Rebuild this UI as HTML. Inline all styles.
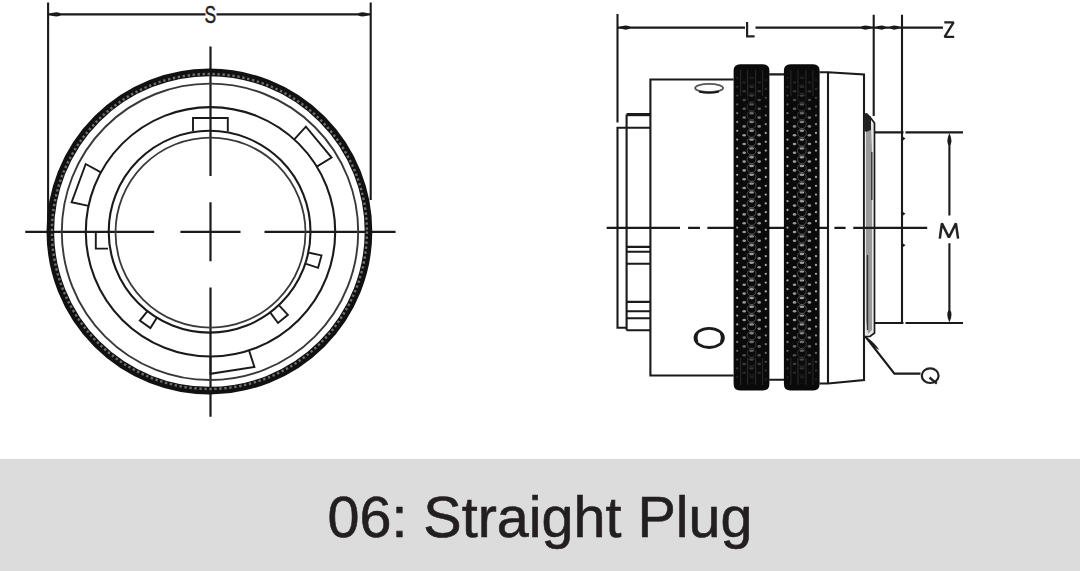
<!DOCTYPE html>
<html><head><meta charset="utf-8"><style>
html,body{margin:0;padding:0;background:#fff;}
body{width:1080px;height:571px;overflow:hidden;position:relative;}
svg{position:absolute;left:0;top:0;}
.cap{position:absolute;left:0;top:459px;width:1080px;height:112px;background:#dcdcdc;}
.cap span{position:absolute;left:0;width:1080px;text-align:center;top:29.5px;font-family:"Liberation Sans",sans-serif;font-size:57.5px;color:#231f20;line-height:1;white-space:nowrap;transform:scaleX(1.0);-webkit-text-stroke:0.6px #231f20;}
</style></head><body>
<svg width="1080" height="571" viewBox="0 0 1080 571">
<g fill="none" stroke="#1a1a1a" stroke-width="2.1">
<path d="M48.1,2.5 V232 M370.7,2.5 V200 M48.1,14.4 H205.5 M216.5,14.4 H370.7" />
</g>
<g fill="none" stroke="#1a1a1a" stroke-width="2.2">
<path d="M210.5,46.6 V176 M210.5,202.2 V261.2 M210.5,287.5 V416.7 M25.3,231.8 H154.2 M180.4,231.8 H240.5 M264.5,231.8 H395.6" />
</g>
<circle cx="209.4" cy="231.5" r="159.1" fill="none" stroke="#111" stroke-width="7.6" />
<circle cx="209.4" cy="231.5" r="157.5" fill="none" stroke="#707070" stroke-width="2.4" stroke-dasharray="2.4 2.6" />
<circle cx="210" cy="231.8" r="148.2" fill="none" stroke="#383838" stroke-width="1.9" />
<circle cx="210.5" cy="231.8" r="124.7" fill="none" stroke="#1a1a1a" stroke-width="2.1" />
<circle cx="209.6" cy="231.7" r="100.9" fill="none" stroke="#1a1a1a" stroke-width="2.1" />
<circle cx="210.5" cy="232.6" r="95" fill="none" stroke="#3a3a3a" stroke-width="1.8" />
<g fill="none" stroke="#1a1a1a" stroke-width="1.9">
<path d="M88.5,205.9 L71.6,202.3 L85.7,164.0 L100.9,172.3" />
<path d="M294.3,139.4 L305.9,126.6 L331.6,157.6 L316.8,166.6" />
<path d="M249.0,350.4 L254.4,366.9 L210.5,373.8 L210.5,356.5" />
<path d="M193,131 V118 H227.8 V131.5" />
<path d="M108.6,232 H95.8 V248.6 H108" />
<path d="M157.0,317.4 L150.4,328.1 L139.8,320.6 L147.7,310.8" />
<path d="M279.3,305.6 L287.9,314.8 L278.0,323.0 L270.5,312.9" />
<path d="M309.2,252.8 L321.5,255.4 L318.1,267.8 L306.2,263.8" />
</g>
<text x="210.3" y="22.6" font-family="Liberation Sans" font-size="23.5" text-anchor="middle" fill="#222" stroke="#222" stroke-width="0.4" transform="translate(210.3,0) scale(0.74,1) translate(-210.3,0)">S</text>
<g fill="none" stroke="#1a1a1a" stroke-width="2.1">
<path d="M617.5,14 V122.4 M617.5,27.6 H745 M755.5,27.6 H943 M873.7,14.7 V116 M902,14.7 V132.4" />
<path d="M626.6,327.7 H617.5 V127.7 H650.4" />
<path d="M626.6,330.2 V114.4 M626.6,330.2 H650.4" />
<path d="M626.6,246.9 H650.4 M626.6,251.8 H650.4 M626.6,263.7 H650.4 M626.6,301.9 H650.4 M626.6,311.3 H650.4 M626.6,318.3 H650.4" />
<path d="M733.6,79.5 H650.4 V375.5 H733.6" />
<path d="M769.2,74.4 H784 M769.2,379.8 H784" />
<path d="M819.5,72.2 H828 L864,74.5 V380 L828,383.5 H819.5 M828,72.2 V383.5" />
<path d="M875,132.4 H903.5 M905.5,132.4 H963 M873.5,323.0 H903.5 M905.5,323.0 H963 M902,132.4 V323.0" />
<path d="M949.4,140 V215.5 M949.4,243.2 V316" />
<path d="M864.6,335.5 L894.4,373.6 H920.5" />
</g>
<path fill="#1a1a1a" d="M626.6,113 H650.4 V116.2 H626.6 Z" />
<path fill="#1a1a1a" d="M48.5,14.4 Q57.9,10.2 61.5,14.4 Q57.9,18.6 48.5,14.4 Z M370.3,14.4 Q360.9,10.2 357.3,14.4 Q360.9,18.6 370.3,14.4 Z M618.0,27.6 Q627.4,23.4 631.0,27.6 Q627.4,31.8 618.0,27.6 Z M873.2,27.6 Q863.8,23.4 860.2,27.6 Q863.8,31.8 873.2,27.6 Z M874.4,27.6 Q883.0,23.4 886.4,27.6 Q883.0,31.8 874.4,27.6 Z M901.4,27.6 Q892.8,23.4 889.4,27.6 Q892.8,31.8 901.4,27.6 Z M949.4,133.0 Q945.2,142.4 949.4,146.0 Q953.6,142.4 949.4,133.0 Z M949.4,322.6 Q945.2,313.2 949.4,309.6 Q953.6,313.2 949.4,322.6 Z " />
<path fill="#1a1a1a" d="M866,337 Q873.5,341.5 879.5,350 Q871,346.5 866,337 Z" />
<path fill="#1a1a1a" d="M903,136.8 L905.5,138.6 L903,140.4 Z M903,212 L905.5,213.8 L903,215.6 Z M903,243.4 L905.5,245.2 L903,247 Z" />
<g fill="none" stroke="#1a1a1a" stroke-width="1.6">
<ellipse cx="709.1" cy="88" rx="14" ry="4.1" stroke="#555" stroke-width="1.8"/><path d="M699,91.6 Q709,94 719,91.6" stroke="#111" stroke-width="2"/>
<ellipse cx="709.2" cy="337.9" rx="14.2" ry="9.6" stroke-width="2.8"/><path d="M697.5,333 Q695.5,338 697.5,342 M720.8,333 Q723,338 720.8,342" stroke-width="2.2"/>
</g>
<path fill="#e8e8e8" stroke="#1a1a1a" stroke-width="1.7" d="M864,117 L870,117 L874.5,123 V333 L870,336.5 H864 Z" />
<path fill="#9a9a9a" d="M866,126 L871,126 L872,150 V330 L868,334 L866,320 Z" />
<path fill="#222" d="M864,113.5 L867,113 L871,117 L871,130 L866,132 L864,130 Z" />
<path fill="none" stroke="#333" stroke-width="1.4" d="M871.8,152 V200 M867.5,255 V330" />
<path fill="none" stroke="#1a1a1a" stroke-width="2.2" d="M606.7,227.8 H680 M688.1,227.8 H700 M707.4,227.8 H828.3 M834.4,227.8 H845.6 M853.3,227.8 H927.2" />
<path fill="#0a0a0a" d="M733.6,70.7 Q733.6,64.2 740.1,64.2 H762.9 Q769.4,64.2 769.4,70.7 V384.1 Q769.4,390.6 762.9,390.6 H740.1 Q733.6,390.6 733.6,384.1 Z" />
<circle cx="737.2" cy="78.0" r="1.15" fill="#d0d0d0" opacity="0.10"/>
<circle cx="765.8" cy="80.2" r="1.15" fill="#d0d0d0" opacity="0.10"/>
<ellipse cx="751.6" cy="78.0" rx="2.4" ry="1.2" fill="#c4c4c4" opacity="0.10"/>
<circle cx="751.6" cy="80.2" r="4.4" fill="none" stroke="#6a6a6a" stroke-width="1" opacity="0.08"/>
<ellipse cx="744.2" cy="82.4" rx="1.8" ry="1.3" fill="#bdbdbd" opacity="0.13"/>
<ellipse cx="759.2" cy="82.4" rx="1.8" ry="1.3" fill="#bdbdbd" opacity="0.13"/>
<circle cx="737.2" cy="86.8" r="1.15" fill="#d0d0d0" opacity="0.19"/>
<circle cx="765.8" cy="89.0" r="1.15" fill="#d0d0d0" opacity="0.19"/>
<ellipse cx="751.6" cy="86.8" rx="2.4" ry="1.2" fill="#c4c4c4" opacity="0.19"/>
<circle cx="751.6" cy="89.0" r="4.4" fill="none" stroke="#6a6a6a" stroke-width="1" opacity="0.15"/>
<ellipse cx="744.2" cy="91.2" rx="1.8" ry="1.3" fill="#bdbdbd" opacity="0.24"/>
<ellipse cx="759.2" cy="91.2" rx="1.8" ry="1.3" fill="#bdbdbd" opacity="0.24"/>
<circle cx="737.2" cy="95.6" r="1.15" fill="#d0d0d0" opacity="0.30"/>
<circle cx="765.8" cy="97.8" r="1.15" fill="#d0d0d0" opacity="0.30"/>
<ellipse cx="751.6" cy="95.6" rx="2.4" ry="1.2" fill="#c4c4c4" opacity="0.30"/>
<circle cx="751.6" cy="97.8" r="4.4" fill="none" stroke="#6a6a6a" stroke-width="1" opacity="0.24"/>
<ellipse cx="744.2" cy="100.0" rx="1.8" ry="1.3" fill="#bdbdbd" opacity="0.35"/>
<ellipse cx="759.2" cy="100.0" rx="1.8" ry="1.3" fill="#bdbdbd" opacity="0.35"/>
<circle cx="737.2" cy="104.4" r="1.15" fill="#d0d0d0" opacity="0.41"/>
<circle cx="765.8" cy="106.6" r="1.15" fill="#d0d0d0" opacity="0.41"/>
<ellipse cx="751.6" cy="104.4" rx="2.4" ry="1.2" fill="#c4c4c4" opacity="0.41"/>
<circle cx="751.6" cy="106.6" r="4.4" fill="none" stroke="#6a6a6a" stroke-width="1" opacity="0.33"/>
<ellipse cx="744.2" cy="108.8" rx="1.8" ry="1.3" fill="#bdbdbd" opacity="0.47"/>
<ellipse cx="759.2" cy="108.8" rx="1.8" ry="1.3" fill="#bdbdbd" opacity="0.47"/>
<circle cx="737.2" cy="113.2" r="1.15" fill="#d0d0d0" opacity="0.52"/>
<circle cx="765.8" cy="115.4" r="1.15" fill="#d0d0d0" opacity="0.52"/>
<ellipse cx="751.6" cy="113.2" rx="2.4" ry="1.2" fill="#c4c4c4" opacity="0.52"/>
<circle cx="751.6" cy="115.4" r="4.4" fill="none" stroke="#6a6a6a" stroke-width="1" opacity="0.42"/>
<ellipse cx="744.2" cy="117.6" rx="1.8" ry="1.3" fill="#bdbdbd" opacity="0.58"/>
<ellipse cx="759.2" cy="117.6" rx="1.8" ry="1.3" fill="#bdbdbd" opacity="0.58"/>
<circle cx="737.2" cy="122.0" r="1.15" fill="#d0d0d0" opacity="0.63"/>
<circle cx="765.8" cy="124.2" r="1.15" fill="#d0d0d0" opacity="0.63"/>
<ellipse cx="751.6" cy="122.0" rx="2.4" ry="1.2" fill="#c4c4c4" opacity="0.63"/>
<circle cx="751.6" cy="124.2" r="4.4" fill="none" stroke="#6a6a6a" stroke-width="1" opacity="0.51"/>
<ellipse cx="744.2" cy="126.4" rx="1.8" ry="1.3" fill="#bdbdbd" opacity="0.69"/>
<ellipse cx="759.2" cy="126.4" rx="1.8" ry="1.3" fill="#bdbdbd" opacity="0.69"/>
<circle cx="737.2" cy="130.8" r="1.15" fill="#d0d0d0" opacity="0.75"/>
<circle cx="765.8" cy="133.0" r="1.15" fill="#d0d0d0" opacity="0.75"/>
<ellipse cx="751.6" cy="130.8" rx="2.4" ry="1.2" fill="#c4c4c4" opacity="0.75"/>
<circle cx="751.6" cy="133.0" r="4.4" fill="none" stroke="#6a6a6a" stroke-width="1" opacity="0.60"/>
<ellipse cx="744.2" cy="135.2" rx="1.8" ry="1.3" fill="#bdbdbd" opacity="0.80"/>
<ellipse cx="759.2" cy="135.2" rx="1.8" ry="1.3" fill="#bdbdbd" opacity="0.80"/>
<circle cx="737.2" cy="139.6" r="1.15" fill="#d0d0d0" opacity="0.80"/>
<circle cx="765.8" cy="141.8" r="1.15" fill="#d0d0d0" opacity="0.80"/>
<ellipse cx="751.6" cy="139.6" rx="2.4" ry="1.2" fill="#c4c4c4" opacity="0.80"/>
<circle cx="751.6" cy="141.8" r="4.4" fill="none" stroke="#6a6a6a" stroke-width="1" opacity="0.64"/>
<ellipse cx="744.2" cy="144.0" rx="1.8" ry="1.3" fill="#bdbdbd" opacity="0.80"/>
<ellipse cx="759.2" cy="144.0" rx="1.8" ry="1.3" fill="#bdbdbd" opacity="0.80"/>
<circle cx="737.2" cy="148.4" r="1.15" fill="#d0d0d0" opacity="0.80"/>
<circle cx="765.8" cy="150.6" r="1.15" fill="#d0d0d0" opacity="0.80"/>
<ellipse cx="751.6" cy="148.4" rx="2.4" ry="1.2" fill="#c4c4c4" opacity="0.80"/>
<circle cx="751.6" cy="150.6" r="4.4" fill="none" stroke="#6a6a6a" stroke-width="1" opacity="0.64"/>
<ellipse cx="744.2" cy="152.8" rx="1.8" ry="1.3" fill="#bdbdbd" opacity="0.80"/>
<ellipse cx="759.2" cy="152.8" rx="1.8" ry="1.3" fill="#bdbdbd" opacity="0.80"/>
<circle cx="737.2" cy="157.2" r="1.15" fill="#d0d0d0" opacity="0.80"/>
<circle cx="765.8" cy="159.4" r="1.15" fill="#d0d0d0" opacity="0.80"/>
<ellipse cx="751.6" cy="157.2" rx="2.4" ry="1.2" fill="#c4c4c4" opacity="0.80"/>
<circle cx="751.6" cy="159.4" r="4.4" fill="none" stroke="#6a6a6a" stroke-width="1" opacity="0.64"/>
<ellipse cx="744.2" cy="161.6" rx="1.8" ry="1.3" fill="#bdbdbd" opacity="0.80"/>
<ellipse cx="759.2" cy="161.6" rx="1.8" ry="1.3" fill="#bdbdbd" opacity="0.80"/>
<circle cx="737.2" cy="166.0" r="1.15" fill="#d0d0d0" opacity="0.80"/>
<circle cx="765.8" cy="168.2" r="1.15" fill="#d0d0d0" opacity="0.80"/>
<ellipse cx="751.6" cy="166.0" rx="2.4" ry="1.2" fill="#c4c4c4" opacity="0.80"/>
<circle cx="751.6" cy="168.2" r="4.4" fill="none" stroke="#6a6a6a" stroke-width="1" opacity="0.64"/>
<ellipse cx="744.2" cy="170.4" rx="1.8" ry="1.3" fill="#bdbdbd" opacity="0.80"/>
<ellipse cx="759.2" cy="170.4" rx="1.8" ry="1.3" fill="#bdbdbd" opacity="0.80"/>
<circle cx="737.2" cy="174.8" r="1.15" fill="#d0d0d0" opacity="0.80"/>
<circle cx="765.8" cy="177.0" r="1.15" fill="#d0d0d0" opacity="0.80"/>
<ellipse cx="751.6" cy="174.8" rx="2.4" ry="1.2" fill="#c4c4c4" opacity="0.80"/>
<circle cx="751.6" cy="177.0" r="4.4" fill="none" stroke="#6a6a6a" stroke-width="1" opacity="0.64"/>
<ellipse cx="744.2" cy="179.2" rx="1.8" ry="1.3" fill="#bdbdbd" opacity="0.80"/>
<ellipse cx="759.2" cy="179.2" rx="1.8" ry="1.3" fill="#bdbdbd" opacity="0.80"/>
<circle cx="737.2" cy="183.6" r="1.15" fill="#d0d0d0" opacity="0.80"/>
<circle cx="765.8" cy="185.8" r="1.15" fill="#d0d0d0" opacity="0.80"/>
<ellipse cx="751.6" cy="183.6" rx="2.4" ry="1.2" fill="#c4c4c4" opacity="0.80"/>
<circle cx="751.6" cy="185.8" r="4.4" fill="none" stroke="#6a6a6a" stroke-width="1" opacity="0.64"/>
<ellipse cx="744.2" cy="188.0" rx="1.8" ry="1.3" fill="#bdbdbd" opacity="0.80"/>
<ellipse cx="759.2" cy="188.0" rx="1.8" ry="1.3" fill="#bdbdbd" opacity="0.80"/>
<circle cx="737.2" cy="192.4" r="1.15" fill="#d0d0d0" opacity="0.80"/>
<circle cx="765.8" cy="194.6" r="1.15" fill="#d0d0d0" opacity="0.80"/>
<ellipse cx="751.6" cy="192.4" rx="2.4" ry="1.2" fill="#c4c4c4" opacity="0.80"/>
<circle cx="751.6" cy="194.6" r="4.4" fill="none" stroke="#6a6a6a" stroke-width="1" opacity="0.64"/>
<ellipse cx="744.2" cy="196.8" rx="1.8" ry="1.3" fill="#bdbdbd" opacity="0.80"/>
<ellipse cx="759.2" cy="196.8" rx="1.8" ry="1.3" fill="#bdbdbd" opacity="0.80"/>
<circle cx="737.2" cy="201.2" r="1.15" fill="#d0d0d0" opacity="0.80"/>
<circle cx="765.8" cy="203.4" r="1.15" fill="#d0d0d0" opacity="0.80"/>
<ellipse cx="751.6" cy="201.2" rx="2.4" ry="1.2" fill="#c4c4c4" opacity="0.80"/>
<circle cx="751.6" cy="203.4" r="4.4" fill="none" stroke="#6a6a6a" stroke-width="1" opacity="0.64"/>
<ellipse cx="744.2" cy="205.6" rx="1.8" ry="1.3" fill="#bdbdbd" opacity="0.80"/>
<ellipse cx="759.2" cy="205.6" rx="1.8" ry="1.3" fill="#bdbdbd" opacity="0.80"/>
<circle cx="737.2" cy="210.0" r="1.15" fill="#d0d0d0" opacity="0.80"/>
<circle cx="765.8" cy="212.2" r="1.15" fill="#d0d0d0" opacity="0.80"/>
<ellipse cx="751.6" cy="210.0" rx="2.4" ry="1.2" fill="#c4c4c4" opacity="0.80"/>
<circle cx="751.6" cy="212.2" r="4.4" fill="none" stroke="#6a6a6a" stroke-width="1" opacity="0.64"/>
<ellipse cx="744.2" cy="214.4" rx="1.8" ry="1.3" fill="#bdbdbd" opacity="0.80"/>
<ellipse cx="759.2" cy="214.4" rx="1.8" ry="1.3" fill="#bdbdbd" opacity="0.80"/>
<circle cx="737.2" cy="218.8" r="1.15" fill="#d0d0d0" opacity="0.80"/>
<circle cx="765.8" cy="221.0" r="1.15" fill="#d0d0d0" opacity="0.80"/>
<ellipse cx="751.6" cy="218.8" rx="2.4" ry="1.2" fill="#c4c4c4" opacity="0.80"/>
<circle cx="751.6" cy="221.0" r="4.4" fill="none" stroke="#6a6a6a" stroke-width="1" opacity="0.64"/>
<ellipse cx="744.2" cy="223.2" rx="1.8" ry="1.3" fill="#bdbdbd" opacity="0.80"/>
<ellipse cx="759.2" cy="223.2" rx="1.8" ry="1.3" fill="#bdbdbd" opacity="0.80"/>
<circle cx="737.2" cy="227.6" r="1.15" fill="#d0d0d0" opacity="0.80"/>
<circle cx="765.8" cy="229.8" r="1.15" fill="#d0d0d0" opacity="0.80"/>
<ellipse cx="751.6" cy="227.6" rx="2.4" ry="1.2" fill="#c4c4c4" opacity="0.80"/>
<circle cx="751.6" cy="229.8" r="4.4" fill="none" stroke="#6a6a6a" stroke-width="1" opacity="0.64"/>
<ellipse cx="744.2" cy="232.0" rx="1.8" ry="1.3" fill="#bdbdbd" opacity="0.80"/>
<ellipse cx="759.2" cy="232.0" rx="1.8" ry="1.3" fill="#bdbdbd" opacity="0.80"/>
<circle cx="737.2" cy="236.4" r="1.15" fill="#d0d0d0" opacity="0.80"/>
<circle cx="765.8" cy="238.6" r="1.15" fill="#d0d0d0" opacity="0.80"/>
<ellipse cx="751.6" cy="236.4" rx="2.4" ry="1.2" fill="#c4c4c4" opacity="0.80"/>
<circle cx="751.6" cy="238.6" r="4.4" fill="none" stroke="#6a6a6a" stroke-width="1" opacity="0.64"/>
<ellipse cx="744.2" cy="240.8" rx="1.8" ry="1.3" fill="#bdbdbd" opacity="0.80"/>
<ellipse cx="759.2" cy="240.8" rx="1.8" ry="1.3" fill="#bdbdbd" opacity="0.80"/>
<circle cx="737.2" cy="245.2" r="1.15" fill="#d0d0d0" opacity="0.80"/>
<circle cx="765.8" cy="247.4" r="1.15" fill="#d0d0d0" opacity="0.80"/>
<ellipse cx="751.6" cy="245.2" rx="2.4" ry="1.2" fill="#c4c4c4" opacity="0.80"/>
<circle cx="751.6" cy="247.4" r="4.4" fill="none" stroke="#6a6a6a" stroke-width="1" opacity="0.64"/>
<ellipse cx="744.2" cy="249.6" rx="1.8" ry="1.3" fill="#bdbdbd" opacity="0.80"/>
<ellipse cx="759.2" cy="249.6" rx="1.8" ry="1.3" fill="#bdbdbd" opacity="0.80"/>
<circle cx="737.2" cy="254.0" r="1.15" fill="#d0d0d0" opacity="0.80"/>
<circle cx="765.8" cy="256.2" r="1.15" fill="#d0d0d0" opacity="0.80"/>
<ellipse cx="751.6" cy="254.0" rx="2.4" ry="1.2" fill="#c4c4c4" opacity="0.80"/>
<circle cx="751.6" cy="256.2" r="4.4" fill="none" stroke="#6a6a6a" stroke-width="1" opacity="0.64"/>
<ellipse cx="744.2" cy="258.4" rx="1.8" ry="1.3" fill="#bdbdbd" opacity="0.80"/>
<ellipse cx="759.2" cy="258.4" rx="1.8" ry="1.3" fill="#bdbdbd" opacity="0.80"/>
<circle cx="737.2" cy="262.8" r="1.15" fill="#d0d0d0" opacity="0.80"/>
<circle cx="765.8" cy="265.0" r="1.15" fill="#d0d0d0" opacity="0.80"/>
<ellipse cx="751.6" cy="262.8" rx="2.4" ry="1.2" fill="#c4c4c4" opacity="0.80"/>
<circle cx="751.6" cy="265.0" r="4.4" fill="none" stroke="#6a6a6a" stroke-width="1" opacity="0.64"/>
<ellipse cx="744.2" cy="267.2" rx="1.8" ry="1.3" fill="#bdbdbd" opacity="0.80"/>
<ellipse cx="759.2" cy="267.2" rx="1.8" ry="1.3" fill="#bdbdbd" opacity="0.80"/>
<circle cx="737.2" cy="271.6" r="1.15" fill="#d0d0d0" opacity="0.80"/>
<circle cx="765.8" cy="273.8" r="1.15" fill="#d0d0d0" opacity="0.80"/>
<ellipse cx="751.6" cy="271.6" rx="2.4" ry="1.2" fill="#c4c4c4" opacity="0.80"/>
<circle cx="751.6" cy="273.8" r="4.4" fill="none" stroke="#6a6a6a" stroke-width="1" opacity="0.64"/>
<ellipse cx="744.2" cy="276.0" rx="1.8" ry="1.3" fill="#bdbdbd" opacity="0.80"/>
<ellipse cx="759.2" cy="276.0" rx="1.8" ry="1.3" fill="#bdbdbd" opacity="0.80"/>
<circle cx="737.2" cy="280.4" r="1.15" fill="#d0d0d0" opacity="0.80"/>
<circle cx="765.8" cy="282.6" r="1.15" fill="#d0d0d0" opacity="0.80"/>
<ellipse cx="751.6" cy="280.4" rx="2.4" ry="1.2" fill="#c4c4c4" opacity="0.80"/>
<circle cx="751.6" cy="282.6" r="4.4" fill="none" stroke="#6a6a6a" stroke-width="1" opacity="0.64"/>
<ellipse cx="744.2" cy="284.8" rx="1.8" ry="1.3" fill="#bdbdbd" opacity="0.80"/>
<ellipse cx="759.2" cy="284.8" rx="1.8" ry="1.3" fill="#bdbdbd" opacity="0.80"/>
<circle cx="737.2" cy="289.2" r="1.15" fill="#d0d0d0" opacity="0.80"/>
<circle cx="765.8" cy="291.4" r="1.15" fill="#d0d0d0" opacity="0.80"/>
<ellipse cx="751.6" cy="289.2" rx="2.4" ry="1.2" fill="#c4c4c4" opacity="0.80"/>
<circle cx="751.6" cy="291.4" r="4.4" fill="none" stroke="#6a6a6a" stroke-width="1" opacity="0.64"/>
<ellipse cx="744.2" cy="293.6" rx="1.8" ry="1.3" fill="#bdbdbd" opacity="0.80"/>
<ellipse cx="759.2" cy="293.6" rx="1.8" ry="1.3" fill="#bdbdbd" opacity="0.80"/>
<circle cx="737.2" cy="298.0" r="1.15" fill="#d0d0d0" opacity="0.80"/>
<circle cx="765.8" cy="300.2" r="1.15" fill="#d0d0d0" opacity="0.80"/>
<ellipse cx="751.6" cy="298.0" rx="2.4" ry="1.2" fill="#c4c4c4" opacity="0.80"/>
<circle cx="751.6" cy="300.2" r="4.4" fill="none" stroke="#6a6a6a" stroke-width="1" opacity="0.64"/>
<ellipse cx="744.2" cy="302.4" rx="1.8" ry="1.3" fill="#bdbdbd" opacity="0.80"/>
<ellipse cx="759.2" cy="302.4" rx="1.8" ry="1.3" fill="#bdbdbd" opacity="0.80"/>
<circle cx="737.2" cy="306.8" r="1.15" fill="#d0d0d0" opacity="0.80"/>
<circle cx="765.8" cy="309.0" r="1.15" fill="#d0d0d0" opacity="0.80"/>
<ellipse cx="751.6" cy="306.8" rx="2.4" ry="1.2" fill="#c4c4c4" opacity="0.80"/>
<circle cx="751.6" cy="309.0" r="4.4" fill="none" stroke="#6a6a6a" stroke-width="1" opacity="0.64"/>
<ellipse cx="744.2" cy="311.2" rx="1.8" ry="1.3" fill="#bdbdbd" opacity="0.80"/>
<ellipse cx="759.2" cy="311.2" rx="1.8" ry="1.3" fill="#bdbdbd" opacity="0.80"/>
<circle cx="737.2" cy="315.6" r="1.15" fill="#d0d0d0" opacity="0.80"/>
<circle cx="765.8" cy="317.8" r="1.15" fill="#d0d0d0" opacity="0.80"/>
<ellipse cx="751.6" cy="315.6" rx="2.4" ry="1.2" fill="#c4c4c4" opacity="0.80"/>
<circle cx="751.6" cy="317.8" r="4.4" fill="none" stroke="#6a6a6a" stroke-width="1" opacity="0.64"/>
<ellipse cx="744.2" cy="320.0" rx="1.8" ry="1.3" fill="#bdbdbd" opacity="0.80"/>
<ellipse cx="759.2" cy="320.0" rx="1.8" ry="1.3" fill="#bdbdbd" opacity="0.80"/>
<circle cx="737.2" cy="324.4" r="1.15" fill="#d0d0d0" opacity="0.78"/>
<circle cx="765.8" cy="326.6" r="1.15" fill="#d0d0d0" opacity="0.78"/>
<ellipse cx="751.6" cy="324.4" rx="2.4" ry="1.2" fill="#c4c4c4" opacity="0.78"/>
<circle cx="751.6" cy="326.6" r="4.4" fill="none" stroke="#6a6a6a" stroke-width="1" opacity="0.63"/>
<ellipse cx="744.2" cy="328.8" rx="1.8" ry="1.3" fill="#bdbdbd" opacity="0.73"/>
<ellipse cx="759.2" cy="328.8" rx="1.8" ry="1.3" fill="#bdbdbd" opacity="0.73"/>
<circle cx="737.2" cy="333.2" r="1.15" fill="#d0d0d0" opacity="0.67"/>
<circle cx="765.8" cy="335.4" r="1.15" fill="#d0d0d0" opacity="0.67"/>
<ellipse cx="751.6" cy="333.2" rx="2.4" ry="1.2" fill="#c4c4c4" opacity="0.67"/>
<circle cx="751.6" cy="335.4" r="4.4" fill="none" stroke="#6a6a6a" stroke-width="1" opacity="0.54"/>
<ellipse cx="744.2" cy="337.6" rx="1.8" ry="1.3" fill="#bdbdbd" opacity="0.61"/>
<ellipse cx="759.2" cy="337.6" rx="1.8" ry="1.3" fill="#bdbdbd" opacity="0.61"/>
<circle cx="737.2" cy="342.0" r="1.15" fill="#d0d0d0" opacity="0.56"/>
<circle cx="765.8" cy="344.2" r="1.15" fill="#d0d0d0" opacity="0.56"/>
<ellipse cx="751.6" cy="342.0" rx="2.4" ry="1.2" fill="#c4c4c4" opacity="0.56"/>
<circle cx="751.6" cy="344.2" r="4.4" fill="none" stroke="#6a6a6a" stroke-width="1" opacity="0.45"/>
<ellipse cx="744.2" cy="346.4" rx="1.8" ry="1.3" fill="#bdbdbd" opacity="0.50"/>
<ellipse cx="759.2" cy="346.4" rx="1.8" ry="1.3" fill="#bdbdbd" opacity="0.50"/>
<circle cx="737.2" cy="350.8" r="1.15" fill="#d0d0d0" opacity="0.45"/>
<circle cx="765.8" cy="353.0" r="1.15" fill="#d0d0d0" opacity="0.45"/>
<ellipse cx="751.6" cy="350.8" rx="2.4" ry="1.2" fill="#c4c4c4" opacity="0.45"/>
<circle cx="751.6" cy="353.0" r="4.4" fill="none" stroke="#6a6a6a" stroke-width="1" opacity="0.36"/>
<ellipse cx="744.2" cy="355.2" rx="1.8" ry="1.3" fill="#bdbdbd" opacity="0.39"/>
<ellipse cx="759.2" cy="355.2" rx="1.8" ry="1.3" fill="#bdbdbd" opacity="0.39"/>
<circle cx="737.2" cy="359.6" r="1.15" fill="#d0d0d0" opacity="0.33"/>
<circle cx="765.8" cy="361.8" r="1.15" fill="#d0d0d0" opacity="0.33"/>
<ellipse cx="751.6" cy="359.6" rx="2.4" ry="1.2" fill="#c4c4c4" opacity="0.33"/>
<circle cx="751.6" cy="361.8" r="4.4" fill="none" stroke="#6a6a6a" stroke-width="1" opacity="0.27"/>
<ellipse cx="744.2" cy="364.0" rx="1.8" ry="1.3" fill="#bdbdbd" opacity="0.28"/>
<ellipse cx="759.2" cy="364.0" rx="1.8" ry="1.3" fill="#bdbdbd" opacity="0.28"/>
<circle cx="737.2" cy="368.4" r="1.15" fill="#d0d0d0" opacity="0.22"/>
<circle cx="765.8" cy="370.6" r="1.15" fill="#d0d0d0" opacity="0.22"/>
<ellipse cx="751.6" cy="368.4" rx="2.4" ry="1.2" fill="#c4c4c4" opacity="0.22"/>
<circle cx="751.6" cy="370.6" r="4.4" fill="none" stroke="#6a6a6a" stroke-width="1" opacity="0.18"/>
<ellipse cx="744.2" cy="372.8" rx="1.8" ry="1.3" fill="#bdbdbd" opacity="0.17"/>
<ellipse cx="759.2" cy="372.8" rx="1.8" ry="1.3" fill="#bdbdbd" opacity="0.17"/>
<circle cx="737.2" cy="377.2" r="1.15" fill="#d0d0d0" opacity="0.11"/>
<circle cx="765.8" cy="379.4" r="1.15" fill="#d0d0d0" opacity="0.11"/>
<ellipse cx="751.6" cy="377.2" rx="2.4" ry="1.2" fill="#c4c4c4" opacity="0.11"/>
<circle cx="751.6" cy="379.4" r="4.4" fill="none" stroke="#6a6a6a" stroke-width="1" opacity="0.09"/>
<path d="M740.6,70 V96 M740.6,358 V385" stroke="#2a2a2a" stroke-width="1" />
<path d="M747.6,70 V96 M747.6,358 V385" stroke="#2a2a2a" stroke-width="1" />
<path d="M755.6,70 V96 M755.6,358 V385" stroke="#2a2a2a" stroke-width="1" />
<path d="M762.6,70 V96 M762.6,358 V385" stroke="#2a2a2a" stroke-width="1" />
<path fill="#0a0a0a" d="M783.9,70.7 Q783.9,64.2 790.4,64.2 H813.1 Q819.6,64.2 819.6,70.7 V384.1 Q819.6,390.6 813.1,390.6 H790.4 Q783.9,390.6 783.9,384.1 Z" />
<circle cx="787.5" cy="78.0" r="1.15" fill="#d0d0d0" opacity="0.10"/>
<circle cx="816.0" cy="80.2" r="1.15" fill="#d0d0d0" opacity="0.10"/>
<ellipse cx="801.9" cy="78.0" rx="2.4" ry="1.2" fill="#c4c4c4" opacity="0.10"/>
<circle cx="801.9" cy="80.2" r="4.4" fill="none" stroke="#6a6a6a" stroke-width="1" opacity="0.08"/>
<ellipse cx="794.5" cy="82.4" rx="1.8" ry="1.3" fill="#bdbdbd" opacity="0.13"/>
<ellipse cx="809.4" cy="82.4" rx="1.8" ry="1.3" fill="#bdbdbd" opacity="0.13"/>
<circle cx="787.5" cy="86.8" r="1.15" fill="#d0d0d0" opacity="0.19"/>
<circle cx="816.0" cy="89.0" r="1.15" fill="#d0d0d0" opacity="0.19"/>
<ellipse cx="801.9" cy="86.8" rx="2.4" ry="1.2" fill="#c4c4c4" opacity="0.19"/>
<circle cx="801.9" cy="89.0" r="4.4" fill="none" stroke="#6a6a6a" stroke-width="1" opacity="0.15"/>
<ellipse cx="794.5" cy="91.2" rx="1.8" ry="1.3" fill="#bdbdbd" opacity="0.24"/>
<ellipse cx="809.4" cy="91.2" rx="1.8" ry="1.3" fill="#bdbdbd" opacity="0.24"/>
<circle cx="787.5" cy="95.6" r="1.15" fill="#d0d0d0" opacity="0.30"/>
<circle cx="816.0" cy="97.8" r="1.15" fill="#d0d0d0" opacity="0.30"/>
<ellipse cx="801.9" cy="95.6" rx="2.4" ry="1.2" fill="#c4c4c4" opacity="0.30"/>
<circle cx="801.9" cy="97.8" r="4.4" fill="none" stroke="#6a6a6a" stroke-width="1" opacity="0.24"/>
<ellipse cx="794.5" cy="100.0" rx="1.8" ry="1.3" fill="#bdbdbd" opacity="0.35"/>
<ellipse cx="809.4" cy="100.0" rx="1.8" ry="1.3" fill="#bdbdbd" opacity="0.35"/>
<circle cx="787.5" cy="104.4" r="1.15" fill="#d0d0d0" opacity="0.41"/>
<circle cx="816.0" cy="106.6" r="1.15" fill="#d0d0d0" opacity="0.41"/>
<ellipse cx="801.9" cy="104.4" rx="2.4" ry="1.2" fill="#c4c4c4" opacity="0.41"/>
<circle cx="801.9" cy="106.6" r="4.4" fill="none" stroke="#6a6a6a" stroke-width="1" opacity="0.33"/>
<ellipse cx="794.5" cy="108.8" rx="1.8" ry="1.3" fill="#bdbdbd" opacity="0.47"/>
<ellipse cx="809.4" cy="108.8" rx="1.8" ry="1.3" fill="#bdbdbd" opacity="0.47"/>
<circle cx="787.5" cy="113.2" r="1.15" fill="#d0d0d0" opacity="0.52"/>
<circle cx="816.0" cy="115.4" r="1.15" fill="#d0d0d0" opacity="0.52"/>
<ellipse cx="801.9" cy="113.2" rx="2.4" ry="1.2" fill="#c4c4c4" opacity="0.52"/>
<circle cx="801.9" cy="115.4" r="4.4" fill="none" stroke="#6a6a6a" stroke-width="1" opacity="0.42"/>
<ellipse cx="794.5" cy="117.6" rx="1.8" ry="1.3" fill="#bdbdbd" opacity="0.58"/>
<ellipse cx="809.4" cy="117.6" rx="1.8" ry="1.3" fill="#bdbdbd" opacity="0.58"/>
<circle cx="787.5" cy="122.0" r="1.15" fill="#d0d0d0" opacity="0.63"/>
<circle cx="816.0" cy="124.2" r="1.15" fill="#d0d0d0" opacity="0.63"/>
<ellipse cx="801.9" cy="122.0" rx="2.4" ry="1.2" fill="#c4c4c4" opacity="0.63"/>
<circle cx="801.9" cy="124.2" r="4.4" fill="none" stroke="#6a6a6a" stroke-width="1" opacity="0.51"/>
<ellipse cx="794.5" cy="126.4" rx="1.8" ry="1.3" fill="#bdbdbd" opacity="0.69"/>
<ellipse cx="809.4" cy="126.4" rx="1.8" ry="1.3" fill="#bdbdbd" opacity="0.69"/>
<circle cx="787.5" cy="130.8" r="1.15" fill="#d0d0d0" opacity="0.75"/>
<circle cx="816.0" cy="133.0" r="1.15" fill="#d0d0d0" opacity="0.75"/>
<ellipse cx="801.9" cy="130.8" rx="2.4" ry="1.2" fill="#c4c4c4" opacity="0.75"/>
<circle cx="801.9" cy="133.0" r="4.4" fill="none" stroke="#6a6a6a" stroke-width="1" opacity="0.60"/>
<ellipse cx="794.5" cy="135.2" rx="1.8" ry="1.3" fill="#bdbdbd" opacity="0.80"/>
<ellipse cx="809.4" cy="135.2" rx="1.8" ry="1.3" fill="#bdbdbd" opacity="0.80"/>
<circle cx="787.5" cy="139.6" r="1.15" fill="#d0d0d0" opacity="0.80"/>
<circle cx="816.0" cy="141.8" r="1.15" fill="#d0d0d0" opacity="0.80"/>
<ellipse cx="801.9" cy="139.6" rx="2.4" ry="1.2" fill="#c4c4c4" opacity="0.80"/>
<circle cx="801.9" cy="141.8" r="4.4" fill="none" stroke="#6a6a6a" stroke-width="1" opacity="0.64"/>
<ellipse cx="794.5" cy="144.0" rx="1.8" ry="1.3" fill="#bdbdbd" opacity="0.80"/>
<ellipse cx="809.4" cy="144.0" rx="1.8" ry="1.3" fill="#bdbdbd" opacity="0.80"/>
<circle cx="787.5" cy="148.4" r="1.15" fill="#d0d0d0" opacity="0.80"/>
<circle cx="816.0" cy="150.6" r="1.15" fill="#d0d0d0" opacity="0.80"/>
<ellipse cx="801.9" cy="148.4" rx="2.4" ry="1.2" fill="#c4c4c4" opacity="0.80"/>
<circle cx="801.9" cy="150.6" r="4.4" fill="none" stroke="#6a6a6a" stroke-width="1" opacity="0.64"/>
<ellipse cx="794.5" cy="152.8" rx="1.8" ry="1.3" fill="#bdbdbd" opacity="0.80"/>
<ellipse cx="809.4" cy="152.8" rx="1.8" ry="1.3" fill="#bdbdbd" opacity="0.80"/>
<circle cx="787.5" cy="157.2" r="1.15" fill="#d0d0d0" opacity="0.80"/>
<circle cx="816.0" cy="159.4" r="1.15" fill="#d0d0d0" opacity="0.80"/>
<ellipse cx="801.9" cy="157.2" rx="2.4" ry="1.2" fill="#c4c4c4" opacity="0.80"/>
<circle cx="801.9" cy="159.4" r="4.4" fill="none" stroke="#6a6a6a" stroke-width="1" opacity="0.64"/>
<ellipse cx="794.5" cy="161.6" rx="1.8" ry="1.3" fill="#bdbdbd" opacity="0.80"/>
<ellipse cx="809.4" cy="161.6" rx="1.8" ry="1.3" fill="#bdbdbd" opacity="0.80"/>
<circle cx="787.5" cy="166.0" r="1.15" fill="#d0d0d0" opacity="0.80"/>
<circle cx="816.0" cy="168.2" r="1.15" fill="#d0d0d0" opacity="0.80"/>
<ellipse cx="801.9" cy="166.0" rx="2.4" ry="1.2" fill="#c4c4c4" opacity="0.80"/>
<circle cx="801.9" cy="168.2" r="4.4" fill="none" stroke="#6a6a6a" stroke-width="1" opacity="0.64"/>
<ellipse cx="794.5" cy="170.4" rx="1.8" ry="1.3" fill="#bdbdbd" opacity="0.80"/>
<ellipse cx="809.4" cy="170.4" rx="1.8" ry="1.3" fill="#bdbdbd" opacity="0.80"/>
<circle cx="787.5" cy="174.8" r="1.15" fill="#d0d0d0" opacity="0.80"/>
<circle cx="816.0" cy="177.0" r="1.15" fill="#d0d0d0" opacity="0.80"/>
<ellipse cx="801.9" cy="174.8" rx="2.4" ry="1.2" fill="#c4c4c4" opacity="0.80"/>
<circle cx="801.9" cy="177.0" r="4.4" fill="none" stroke="#6a6a6a" stroke-width="1" opacity="0.64"/>
<ellipse cx="794.5" cy="179.2" rx="1.8" ry="1.3" fill="#bdbdbd" opacity="0.80"/>
<ellipse cx="809.4" cy="179.2" rx="1.8" ry="1.3" fill="#bdbdbd" opacity="0.80"/>
<circle cx="787.5" cy="183.6" r="1.15" fill="#d0d0d0" opacity="0.80"/>
<circle cx="816.0" cy="185.8" r="1.15" fill="#d0d0d0" opacity="0.80"/>
<ellipse cx="801.9" cy="183.6" rx="2.4" ry="1.2" fill="#c4c4c4" opacity="0.80"/>
<circle cx="801.9" cy="185.8" r="4.4" fill="none" stroke="#6a6a6a" stroke-width="1" opacity="0.64"/>
<ellipse cx="794.5" cy="188.0" rx="1.8" ry="1.3" fill="#bdbdbd" opacity="0.80"/>
<ellipse cx="809.4" cy="188.0" rx="1.8" ry="1.3" fill="#bdbdbd" opacity="0.80"/>
<circle cx="787.5" cy="192.4" r="1.15" fill="#d0d0d0" opacity="0.80"/>
<circle cx="816.0" cy="194.6" r="1.15" fill="#d0d0d0" opacity="0.80"/>
<ellipse cx="801.9" cy="192.4" rx="2.4" ry="1.2" fill="#c4c4c4" opacity="0.80"/>
<circle cx="801.9" cy="194.6" r="4.4" fill="none" stroke="#6a6a6a" stroke-width="1" opacity="0.64"/>
<ellipse cx="794.5" cy="196.8" rx="1.8" ry="1.3" fill="#bdbdbd" opacity="0.80"/>
<ellipse cx="809.4" cy="196.8" rx="1.8" ry="1.3" fill="#bdbdbd" opacity="0.80"/>
<circle cx="787.5" cy="201.2" r="1.15" fill="#d0d0d0" opacity="0.80"/>
<circle cx="816.0" cy="203.4" r="1.15" fill="#d0d0d0" opacity="0.80"/>
<ellipse cx="801.9" cy="201.2" rx="2.4" ry="1.2" fill="#c4c4c4" opacity="0.80"/>
<circle cx="801.9" cy="203.4" r="4.4" fill="none" stroke="#6a6a6a" stroke-width="1" opacity="0.64"/>
<ellipse cx="794.5" cy="205.6" rx="1.8" ry="1.3" fill="#bdbdbd" opacity="0.80"/>
<ellipse cx="809.4" cy="205.6" rx="1.8" ry="1.3" fill="#bdbdbd" opacity="0.80"/>
<circle cx="787.5" cy="210.0" r="1.15" fill="#d0d0d0" opacity="0.80"/>
<circle cx="816.0" cy="212.2" r="1.15" fill="#d0d0d0" opacity="0.80"/>
<ellipse cx="801.9" cy="210.0" rx="2.4" ry="1.2" fill="#c4c4c4" opacity="0.80"/>
<circle cx="801.9" cy="212.2" r="4.4" fill="none" stroke="#6a6a6a" stroke-width="1" opacity="0.64"/>
<ellipse cx="794.5" cy="214.4" rx="1.8" ry="1.3" fill="#bdbdbd" opacity="0.80"/>
<ellipse cx="809.4" cy="214.4" rx="1.8" ry="1.3" fill="#bdbdbd" opacity="0.80"/>
<circle cx="787.5" cy="218.8" r="1.15" fill="#d0d0d0" opacity="0.80"/>
<circle cx="816.0" cy="221.0" r="1.15" fill="#d0d0d0" opacity="0.80"/>
<ellipse cx="801.9" cy="218.8" rx="2.4" ry="1.2" fill="#c4c4c4" opacity="0.80"/>
<circle cx="801.9" cy="221.0" r="4.4" fill="none" stroke="#6a6a6a" stroke-width="1" opacity="0.64"/>
<ellipse cx="794.5" cy="223.2" rx="1.8" ry="1.3" fill="#bdbdbd" opacity="0.80"/>
<ellipse cx="809.4" cy="223.2" rx="1.8" ry="1.3" fill="#bdbdbd" opacity="0.80"/>
<circle cx="787.5" cy="227.6" r="1.15" fill="#d0d0d0" opacity="0.80"/>
<circle cx="816.0" cy="229.8" r="1.15" fill="#d0d0d0" opacity="0.80"/>
<ellipse cx="801.9" cy="227.6" rx="2.4" ry="1.2" fill="#c4c4c4" opacity="0.80"/>
<circle cx="801.9" cy="229.8" r="4.4" fill="none" stroke="#6a6a6a" stroke-width="1" opacity="0.64"/>
<ellipse cx="794.5" cy="232.0" rx="1.8" ry="1.3" fill="#bdbdbd" opacity="0.80"/>
<ellipse cx="809.4" cy="232.0" rx="1.8" ry="1.3" fill="#bdbdbd" opacity="0.80"/>
<circle cx="787.5" cy="236.4" r="1.15" fill="#d0d0d0" opacity="0.80"/>
<circle cx="816.0" cy="238.6" r="1.15" fill="#d0d0d0" opacity="0.80"/>
<ellipse cx="801.9" cy="236.4" rx="2.4" ry="1.2" fill="#c4c4c4" opacity="0.80"/>
<circle cx="801.9" cy="238.6" r="4.4" fill="none" stroke="#6a6a6a" stroke-width="1" opacity="0.64"/>
<ellipse cx="794.5" cy="240.8" rx="1.8" ry="1.3" fill="#bdbdbd" opacity="0.80"/>
<ellipse cx="809.4" cy="240.8" rx="1.8" ry="1.3" fill="#bdbdbd" opacity="0.80"/>
<circle cx="787.5" cy="245.2" r="1.15" fill="#d0d0d0" opacity="0.80"/>
<circle cx="816.0" cy="247.4" r="1.15" fill="#d0d0d0" opacity="0.80"/>
<ellipse cx="801.9" cy="245.2" rx="2.4" ry="1.2" fill="#c4c4c4" opacity="0.80"/>
<circle cx="801.9" cy="247.4" r="4.4" fill="none" stroke="#6a6a6a" stroke-width="1" opacity="0.64"/>
<ellipse cx="794.5" cy="249.6" rx="1.8" ry="1.3" fill="#bdbdbd" opacity="0.80"/>
<ellipse cx="809.4" cy="249.6" rx="1.8" ry="1.3" fill="#bdbdbd" opacity="0.80"/>
<circle cx="787.5" cy="254.0" r="1.15" fill="#d0d0d0" opacity="0.80"/>
<circle cx="816.0" cy="256.2" r="1.15" fill="#d0d0d0" opacity="0.80"/>
<ellipse cx="801.9" cy="254.0" rx="2.4" ry="1.2" fill="#c4c4c4" opacity="0.80"/>
<circle cx="801.9" cy="256.2" r="4.4" fill="none" stroke="#6a6a6a" stroke-width="1" opacity="0.64"/>
<ellipse cx="794.5" cy="258.4" rx="1.8" ry="1.3" fill="#bdbdbd" opacity="0.80"/>
<ellipse cx="809.4" cy="258.4" rx="1.8" ry="1.3" fill="#bdbdbd" opacity="0.80"/>
<circle cx="787.5" cy="262.8" r="1.15" fill="#d0d0d0" opacity="0.80"/>
<circle cx="816.0" cy="265.0" r="1.15" fill="#d0d0d0" opacity="0.80"/>
<ellipse cx="801.9" cy="262.8" rx="2.4" ry="1.2" fill="#c4c4c4" opacity="0.80"/>
<circle cx="801.9" cy="265.0" r="4.4" fill="none" stroke="#6a6a6a" stroke-width="1" opacity="0.64"/>
<ellipse cx="794.5" cy="267.2" rx="1.8" ry="1.3" fill="#bdbdbd" opacity="0.80"/>
<ellipse cx="809.4" cy="267.2" rx="1.8" ry="1.3" fill="#bdbdbd" opacity="0.80"/>
<circle cx="787.5" cy="271.6" r="1.15" fill="#d0d0d0" opacity="0.80"/>
<circle cx="816.0" cy="273.8" r="1.15" fill="#d0d0d0" opacity="0.80"/>
<ellipse cx="801.9" cy="271.6" rx="2.4" ry="1.2" fill="#c4c4c4" opacity="0.80"/>
<circle cx="801.9" cy="273.8" r="4.4" fill="none" stroke="#6a6a6a" stroke-width="1" opacity="0.64"/>
<ellipse cx="794.5" cy="276.0" rx="1.8" ry="1.3" fill="#bdbdbd" opacity="0.80"/>
<ellipse cx="809.4" cy="276.0" rx="1.8" ry="1.3" fill="#bdbdbd" opacity="0.80"/>
<circle cx="787.5" cy="280.4" r="1.15" fill="#d0d0d0" opacity="0.80"/>
<circle cx="816.0" cy="282.6" r="1.15" fill="#d0d0d0" opacity="0.80"/>
<ellipse cx="801.9" cy="280.4" rx="2.4" ry="1.2" fill="#c4c4c4" opacity="0.80"/>
<circle cx="801.9" cy="282.6" r="4.4" fill="none" stroke="#6a6a6a" stroke-width="1" opacity="0.64"/>
<ellipse cx="794.5" cy="284.8" rx="1.8" ry="1.3" fill="#bdbdbd" opacity="0.80"/>
<ellipse cx="809.4" cy="284.8" rx="1.8" ry="1.3" fill="#bdbdbd" opacity="0.80"/>
<circle cx="787.5" cy="289.2" r="1.15" fill="#d0d0d0" opacity="0.80"/>
<circle cx="816.0" cy="291.4" r="1.15" fill="#d0d0d0" opacity="0.80"/>
<ellipse cx="801.9" cy="289.2" rx="2.4" ry="1.2" fill="#c4c4c4" opacity="0.80"/>
<circle cx="801.9" cy="291.4" r="4.4" fill="none" stroke="#6a6a6a" stroke-width="1" opacity="0.64"/>
<ellipse cx="794.5" cy="293.6" rx="1.8" ry="1.3" fill="#bdbdbd" opacity="0.80"/>
<ellipse cx="809.4" cy="293.6" rx="1.8" ry="1.3" fill="#bdbdbd" opacity="0.80"/>
<circle cx="787.5" cy="298.0" r="1.15" fill="#d0d0d0" opacity="0.80"/>
<circle cx="816.0" cy="300.2" r="1.15" fill="#d0d0d0" opacity="0.80"/>
<ellipse cx="801.9" cy="298.0" rx="2.4" ry="1.2" fill="#c4c4c4" opacity="0.80"/>
<circle cx="801.9" cy="300.2" r="4.4" fill="none" stroke="#6a6a6a" stroke-width="1" opacity="0.64"/>
<ellipse cx="794.5" cy="302.4" rx="1.8" ry="1.3" fill="#bdbdbd" opacity="0.80"/>
<ellipse cx="809.4" cy="302.4" rx="1.8" ry="1.3" fill="#bdbdbd" opacity="0.80"/>
<circle cx="787.5" cy="306.8" r="1.15" fill="#d0d0d0" opacity="0.80"/>
<circle cx="816.0" cy="309.0" r="1.15" fill="#d0d0d0" opacity="0.80"/>
<ellipse cx="801.9" cy="306.8" rx="2.4" ry="1.2" fill="#c4c4c4" opacity="0.80"/>
<circle cx="801.9" cy="309.0" r="4.4" fill="none" stroke="#6a6a6a" stroke-width="1" opacity="0.64"/>
<ellipse cx="794.5" cy="311.2" rx="1.8" ry="1.3" fill="#bdbdbd" opacity="0.80"/>
<ellipse cx="809.4" cy="311.2" rx="1.8" ry="1.3" fill="#bdbdbd" opacity="0.80"/>
<circle cx="787.5" cy="315.6" r="1.15" fill="#d0d0d0" opacity="0.80"/>
<circle cx="816.0" cy="317.8" r="1.15" fill="#d0d0d0" opacity="0.80"/>
<ellipse cx="801.9" cy="315.6" rx="2.4" ry="1.2" fill="#c4c4c4" opacity="0.80"/>
<circle cx="801.9" cy="317.8" r="4.4" fill="none" stroke="#6a6a6a" stroke-width="1" opacity="0.64"/>
<ellipse cx="794.5" cy="320.0" rx="1.8" ry="1.3" fill="#bdbdbd" opacity="0.80"/>
<ellipse cx="809.4" cy="320.0" rx="1.8" ry="1.3" fill="#bdbdbd" opacity="0.80"/>
<circle cx="787.5" cy="324.4" r="1.15" fill="#d0d0d0" opacity="0.78"/>
<circle cx="816.0" cy="326.6" r="1.15" fill="#d0d0d0" opacity="0.78"/>
<ellipse cx="801.9" cy="324.4" rx="2.4" ry="1.2" fill="#c4c4c4" opacity="0.78"/>
<circle cx="801.9" cy="326.6" r="4.4" fill="none" stroke="#6a6a6a" stroke-width="1" opacity="0.63"/>
<ellipse cx="794.5" cy="328.8" rx="1.8" ry="1.3" fill="#bdbdbd" opacity="0.73"/>
<ellipse cx="809.4" cy="328.8" rx="1.8" ry="1.3" fill="#bdbdbd" opacity="0.73"/>
<circle cx="787.5" cy="333.2" r="1.15" fill="#d0d0d0" opacity="0.67"/>
<circle cx="816.0" cy="335.4" r="1.15" fill="#d0d0d0" opacity="0.67"/>
<ellipse cx="801.9" cy="333.2" rx="2.4" ry="1.2" fill="#c4c4c4" opacity="0.67"/>
<circle cx="801.9" cy="335.4" r="4.4" fill="none" stroke="#6a6a6a" stroke-width="1" opacity="0.54"/>
<ellipse cx="794.5" cy="337.6" rx="1.8" ry="1.3" fill="#bdbdbd" opacity="0.61"/>
<ellipse cx="809.4" cy="337.6" rx="1.8" ry="1.3" fill="#bdbdbd" opacity="0.61"/>
<circle cx="787.5" cy="342.0" r="1.15" fill="#d0d0d0" opacity="0.56"/>
<circle cx="816.0" cy="344.2" r="1.15" fill="#d0d0d0" opacity="0.56"/>
<ellipse cx="801.9" cy="342.0" rx="2.4" ry="1.2" fill="#c4c4c4" opacity="0.56"/>
<circle cx="801.9" cy="344.2" r="4.4" fill="none" stroke="#6a6a6a" stroke-width="1" opacity="0.45"/>
<ellipse cx="794.5" cy="346.4" rx="1.8" ry="1.3" fill="#bdbdbd" opacity="0.50"/>
<ellipse cx="809.4" cy="346.4" rx="1.8" ry="1.3" fill="#bdbdbd" opacity="0.50"/>
<circle cx="787.5" cy="350.8" r="1.15" fill="#d0d0d0" opacity="0.45"/>
<circle cx="816.0" cy="353.0" r="1.15" fill="#d0d0d0" opacity="0.45"/>
<ellipse cx="801.9" cy="350.8" rx="2.4" ry="1.2" fill="#c4c4c4" opacity="0.45"/>
<circle cx="801.9" cy="353.0" r="4.4" fill="none" stroke="#6a6a6a" stroke-width="1" opacity="0.36"/>
<ellipse cx="794.5" cy="355.2" rx="1.8" ry="1.3" fill="#bdbdbd" opacity="0.39"/>
<ellipse cx="809.4" cy="355.2" rx="1.8" ry="1.3" fill="#bdbdbd" opacity="0.39"/>
<circle cx="787.5" cy="359.6" r="1.15" fill="#d0d0d0" opacity="0.33"/>
<circle cx="816.0" cy="361.8" r="1.15" fill="#d0d0d0" opacity="0.33"/>
<ellipse cx="801.9" cy="359.6" rx="2.4" ry="1.2" fill="#c4c4c4" opacity="0.33"/>
<circle cx="801.9" cy="361.8" r="4.4" fill="none" stroke="#6a6a6a" stroke-width="1" opacity="0.27"/>
<ellipse cx="794.5" cy="364.0" rx="1.8" ry="1.3" fill="#bdbdbd" opacity="0.28"/>
<ellipse cx="809.4" cy="364.0" rx="1.8" ry="1.3" fill="#bdbdbd" opacity="0.28"/>
<circle cx="787.5" cy="368.4" r="1.15" fill="#d0d0d0" opacity="0.22"/>
<circle cx="816.0" cy="370.6" r="1.15" fill="#d0d0d0" opacity="0.22"/>
<ellipse cx="801.9" cy="368.4" rx="2.4" ry="1.2" fill="#c4c4c4" opacity="0.22"/>
<circle cx="801.9" cy="370.6" r="4.4" fill="none" stroke="#6a6a6a" stroke-width="1" opacity="0.18"/>
<ellipse cx="794.5" cy="372.8" rx="1.8" ry="1.3" fill="#bdbdbd" opacity="0.17"/>
<ellipse cx="809.4" cy="372.8" rx="1.8" ry="1.3" fill="#bdbdbd" opacity="0.17"/>
<circle cx="787.5" cy="377.2" r="1.15" fill="#d0d0d0" opacity="0.11"/>
<circle cx="816.0" cy="379.4" r="1.15" fill="#d0d0d0" opacity="0.11"/>
<ellipse cx="801.9" cy="377.2" rx="2.4" ry="1.2" fill="#c4c4c4" opacity="0.11"/>
<circle cx="801.9" cy="379.4" r="4.4" fill="none" stroke="#6a6a6a" stroke-width="1" opacity="0.09"/>
<path d="M790.9,70 V96 M790.9,358 V385" stroke="#2a2a2a" stroke-width="1" />
<path d="M797.9,70 V96 M797.9,358 V385" stroke="#2a2a2a" stroke-width="1" />
<path d="M805.9,70 V96 M805.9,358 V385" stroke="#2a2a2a" stroke-width="1" />
<path d="M812.9,70 V96 M812.9,358 V385" stroke="#2a2a2a" stroke-width="1" />
<path d="M747.1,22 V36.4 H754.6" fill="none" stroke="#222" stroke-width="2.2" stroke-linejoin="miter"/>
<path d="M944.3,22.3 H953.6 L944.6,36.9 H954.2" fill="none" stroke="#222" stroke-width="2.3" stroke-linejoin="bevel"/>
<path d="M939.8,238.6 L941.9,223.4 L948.9,237.4 L955.9,223.4 L958.1,238.6" fill="none" stroke="#222" stroke-width="2.5" stroke-linejoin="bevel"/>
<ellipse cx="930.2" cy="375.7" rx="8.4" ry="7.3" fill="none" stroke="#222" stroke-width="2.2"/><path d="M929.5,377.5 L936.8,383.6" stroke="#222" stroke-width="2.3" fill="none"/>

</svg>
<div class="cap"><span>06: Straight Plug</span></div>
</body></html>
